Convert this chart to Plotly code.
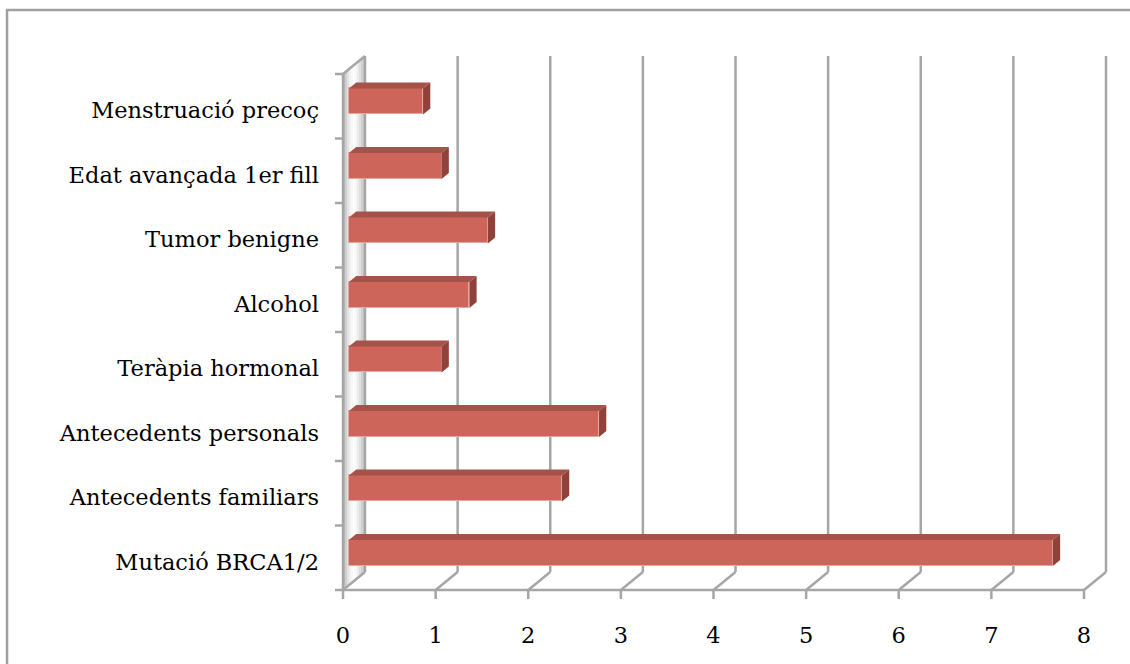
import plotly.graph_objects as go

# Risk factors (bottom to top) and their values
factors = [
    "Mutació BRCA1/2",
    "Antecedents familiars",
    "Antecedents personals",
    "Teràpia hormonal",
    "Alcohol",
    "Tumor benigne",
    "Edat avançada 1er fill",
    "Menstruació precoç",
]
values = [7.6, 2.3, 2.7, 1.0, 1.3, 1.5, 1.0, 0.8]
x_ticks = [0, 1, 2, 3, 4, 5, 6, 7, 8]

# Oblique projection used to fake the 3-D box: depth offsets in data units
DX = 0.2375   # horizontal shift of the back plane
DY = 0.279    # vertical shift of the back plane
D0, D1 = 0.27, 0.60   # bar depth span (fraction of box depth)
H = 0.2015            # half bar thickness (category units)
N = len(factors)
Y_LO, Y_HI = -0.5, N - 0.5

FRONT = "#CE655B"
TOP = "#A5524A"
SIDE = "#8E423A"
GRID = "#A6A6A6"

fig = go.Figure()

# Front faces of the bars
fig.add_trace(go.Bar(
    y=[i + D0 * DY for i in range(N)],
    x=values,
    base=D0 * DX,
    orientation="h",
    width=2 * H,
    marker=dict(color=FRONT, line=dict(color="#E6A59E", width=1)),
    hoverinfo="skip",
    showlegend=False,
))

# Top and side faces of each bar
for i, v in enumerate(values):
    yt = i + H
    yb = i - H
    fig.add_trace(go.Scatter(
        x=[D0 * DX, v + D0 * DX, v + D1 * DX, D1 * DX, D0 * DX],
        y=[yt + D0 * DY, yt + D0 * DY, yt + D1 * DY, yt + D1 * DY, yt + D0 * DY],
        fill="toself", fillcolor=TOP, mode="lines", line=dict(width=0, color=TOP),
        hoverinfo="skip", showlegend=False,
    ))
    fig.add_trace(go.Scatter(
        x=[v + D0 * DX, v + D0 * DX, v + D1 * DX, v + D1 * DX, v + D0 * DX],
        y=[yb + D0 * DY, yt + D0 * DY, yt + D1 * DY, yb + D1 * DY, yb + D0 * DY],
        fill="toself", fillcolor=SIDE, mode="lines", line=dict(width=0, color=SIDE),
        hoverinfo="skip", showlegend=False,
    ))

shapes = []

# Left wall: shaded in thin strips to mimic a glossy gradient
wall_cols = ["#b9b9b9", "#cfcfcf", "#e2e2e2", "#f0f0f0", "#f8f8f8", "#fdfdfd",
             "#f7f7f7", "#ececec", "#dedede", "#d0d0d0", "#c4c4c4"]
ns = len(wall_cols)
for k, col in enumerate(wall_cols):
    a, b = k / ns, (k + 1) / ns
    path = (f"M {a*DX},{Y_LO + a*DY} L {b*DX},{Y_LO + b*DY} "
            f"L {b*DX},{Y_HI + b*DY} L {a*DX},{Y_HI + a*DY} Z")
    shapes.append(dict(type="path", path=path, xref="x", yref="y",
                       fillcolor=col, line=dict(width=0), layer="below"))

line_style = dict(color=GRID, width=2.5)
# Wall edges
shapes.append(dict(type="line", xref="x", yref="y", x0=0, x1=0, y0=Y_LO, y1=Y_HI,
                   line=line_style, layer="below"))
shapes.append(dict(type="line", xref="x", yref="y", x0=0, x1=DX, y0=Y_HI, y1=Y_HI + DY,
                   line=line_style, layer="below"))
# Back-wall gridlines (including the wall's back edge) and floor diagonals
for t in x_ticks:
    shapes.append(dict(type="line", xref="x", yref="y", x0=t + DX, x1=t + DX,
                       y0=Y_LO + DY, y1=Y_HI + DY, line=line_style, layer="below"))
    shapes.append(dict(type="line", xref="x", yref="y", x0=t, x1=t + DX,
                       y0=Y_LO, y1=Y_LO + DY, line=line_style, layer="below"))
    # tick marks under the floor edge
    shapes.append(dict(type="line", xref="x", yref="y", x0=t, x1=t,
                       y0=Y_LO, y1=Y_LO - 0.14, line=line_style, layer="below"))
# Front floor edge
shapes.append(dict(type="line", xref="x", yref="y", x0=0, x1=x_ticks[-1],
                   y0=Y_LO, y1=Y_LO, line=line_style, layer="below"))
# Category boundary ticks on the wall's front edge
for j in range(N + 1):
    yb = Y_LO + j
    shapes.append(dict(type="line", xref="x", yref="y", x0=-0.0864, x1=0,
                       y0=yb, y1=yb, line=line_style, layer="below"))

# Chart-area border
shapes.append(dict(type="rect", xref="paper", yref="paper",
                   x0=-0.4221, x1=1.2, y0=-0.3, y1=1.0725,
                   line=dict(color="#A0A0A0", width=2.5), fillcolor="rgba(0,0,0,0)",
                   layer="below"))

font = dict(family="DejaVu Serif", size=22.5, color="#000000")

fig.update_layout(
    width=1130, height=664,
    margin=dict(l=335, r=18, t=50, b=62),
    paper_bgcolor="white", plot_bgcolor="white",
    shapes=shapes,
    font=font,
    bargap=0,
    xaxis=dict(range=[-0.0864, 8.3023], tickvals=x_ticks,
               ticktext=[str(t) for t in x_ticks],
               showgrid=False, zeroline=False, showline=False, ticks="",
               ticklabelstandoff=17, tickfont=font, fixedrange=True),
    yaxis=dict(range=[-0.686, 7.872], tickvals=list(range(N)), ticktext=factors,
               showgrid=False, zeroline=False, showline=False, ticks="",
               ticklabelstandoff=15, ticklabelshift=4, tickfont=font,
               fixedrange=True),
)

fig.write_html("out.html", config={"displayModeBar": False})
